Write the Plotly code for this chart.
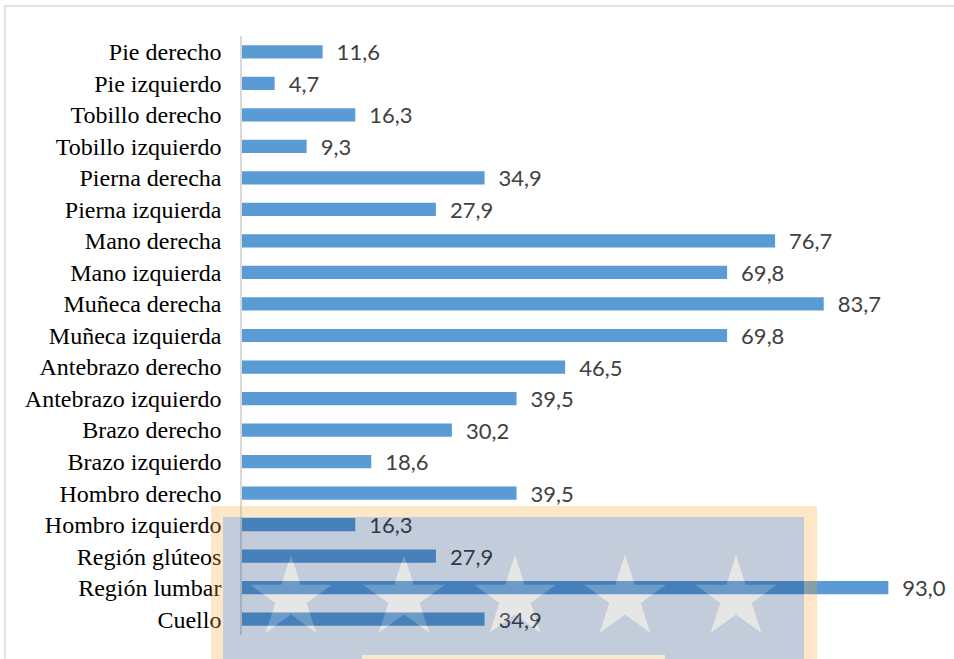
import math
import plotly.graph_objects as go

categories = ["Cuello", "Región lumbar", "Región glúteos", "Hombro izquierdo", "Hombro derecho",
              "Brazo izquierdo", "Brazo derecho", "Antebrazo izquierdo", "Antebrazo derecho",
              "Muñeca izquierda", "Muñeca derecha", "Mano izquierda", "Mano derecha",
              "Pierna izquierda", "Pierna derecha", "Tobillo izquierdo", "Tobillo derecho",
              "Pie izquierdo", "Pie derecho"]
values = [34.9, 93.0, 27.9, 16.3, 39.5, 18.6, 30.2, 39.5, 46.5, 69.8, 83.7, 69.8, 76.7,
          27.9, 34.9, 9.3, 16.3, 4.7, 11.6]

W, H = 954, 659
ML, MR, MT, MB = 242, 17, 36, 24
PW, PH = W - ML - MR, H - MT - MB

def px(x):
    return (x - ML) / PW

def py(y):
    return (H - MB - y) / PH

def path_from(points):
    s = "M " + " L ".join(f"{px(x):.5f},{py(y):.5f}" for x, y in points) + " Z"
    return s

fig = go.Figure()
fig.add_trace(go.Bar(
    y=categories, x=values, orientation="h",
    marker=dict(color="#5B9BD5", line=dict(width=0)),
    width=0.42,
    texttemplate="\u2002%{x:.1f}", textposition="outside",
    constraintext="none",
    textfont=dict(family="Lato", size=22, color="#404040"),
    cliponaxis=False, hoverinfo="skip",
))

shapes = []
# outer chart frame
shapes.append(dict(type="rect", xref="paper", yref="paper",
                   x0=px(5), x1=px(970), y0=py(6), y1=py(680),
                   line=dict(color="#D9D9D9", width=1.5), fillcolor="rgba(0,0,0,0)", layer="below"))

# watermark: orange frame
shapes.append(dict(type="path", xref="paper", yref="paper", layer="above",
                   path=path_from([(211, 506), (817, 506), (817, 680), (211, 680)]) +
                   " " + path_from([(223, 680), (804, 680), (804, 517), (223, 517)]),
                   fillcolor="rgba(250,170,50,0.28)", line=dict(width=0)))

# stars
star_cx = [291, 404, 515, 625, 736]
star_cy = 598
R, r = 43, 43 * 0.382
star_paths = []
for cx in star_cx:
    pts = []
    for k in range(10):
        ang = math.radians(-90 - 36 * k)
        rad = R if k % 2 == 0 else r
        pts.append((cx + rad * math.cos(ang), star_cy + rad * math.sin(ang)))
    star_paths.append(pts)

blue_path = path_from([(223, 517), (804, 517), (804, 680), (223, 680)])
for pts in star_paths:
    blue_path += " " + path_from(pts)
shapes.append(dict(type="path", xref="paper", yref="paper", layer="above",
                   path=blue_path, fillcolor="rgba(0,40,100,0.24)", line=dict(width=0)))
for pts in star_paths:
    shapes.append(dict(type="path", xref="paper", yref="paper", layer="above",
                       path=path_from(pts[::-1]), fillcolor="rgba(156,156,156,0.25)",
                       line=dict(width=0)))
# small cream box at bottom
shapes.append(dict(type="rect", xref="paper", yref="paper", layer="above",
                   x0=px(362), x1=px(665), y0=py(655), y1=py(680),
                   fillcolor="rgba(253,236,205,0.9)", line=dict(width=0)))

fig.update_layout(
    width=W, height=H,
    margin=dict(l=ML, r=MR, t=MT, b=MB),
    paper_bgcolor="white", plot_bgcolor="white",
    separators=", ",
    showlegend=False,
    xaxis=dict(visible=False, range=[0, 100], fixedrange=True),
    yaxis=dict(showline=True, linecolor="#D9D9D9", linewidth=1.5, ticks="",
               showgrid=False, ticklabelstandoff=14,
               tickfont=dict(family="Liberation Serif", size=24, color="#000000"),
               range=[-0.5, len(categories) - 0.5]),
    shapes=shapes,
)

fig.write_html("out.html")
